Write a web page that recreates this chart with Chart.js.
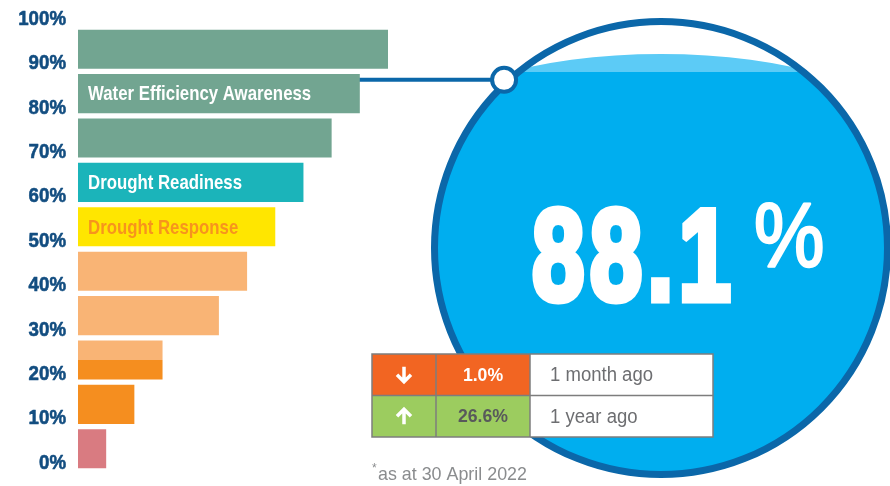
<!DOCTYPE html>
<html><head><meta charset="utf-8">
<script src="https://cdn.jsdelivr.net/npm/chart.js@4.4.0/dist/chart.umd.min.js"></script>
<style>html,body{margin:0;padding:0;background:#fff;overflow:hidden}#wrap{width:890px;height:486px;position:relative}</style>
</head><body><div id="wrap"><canvas id="c" width="890" height="486"></canvas></div>
<script>
// ---- data ----
const bands = ['90–100%','80–90%','70–80%','60–70%','50–60%','40–50%','30–40%','20–30%','10–20%','0–10%'];
const barLengths = [11, 10, 9, 8, 7, 6, 5, 3, 2, 1];
const barColors = ['#72a591','#72a591','#72a591','#1bb4ba','#ffe600','#f9b475','#f9b475',['#f9b475','#f58e1f'],'#f58e1f','#d97b81'];
const barLabels = ['', 'Water Efficiency Awareness', '', 'Drought Readiness', 'Drought Response', '', '', '', '', ''];
const barLabelColors = ['#ffffff','#ffffff','#ffffff','#ffffff','#f7941d','#ffffff','#ffffff','#ffffff','#ffffff','#ffffff'];
const tickValues = [0, 10, 20, 30, 40, 50, 60, 70, 80, 90, 100];
const currentLevel = 88.1;
const changeDirections = ['down', 'up'];
const changeValues = ['1.0%', '26.6%'];
const changePeriods = ['1 month ago', '1 year ago'];
const footnote = 'as at 30 April 2022';

// ---- styling ----
const FAMILY = '"Liberation Sans", Arial, sans-serif';
const BLUE_DARK = '#0b67a9';
const WATER = '#00aeef';
const WATER_LIGHT = '#5ccbf6';
const CIRCLE = {cx: 661, cy: 248, r: 230, border: 7};

// draws text horizontally condensed (no narrow font is installed)
function narrowText(ctx, text, x, y, o) {
  ctx.save();
  ctx.font = (o.weight || 'normal') + ' ' + o.size + 'px ' + FAMILY;
  ctx.fillStyle = o.color;
  ctx.textBaseline = o.baseline || 'middle';
  ctx.textAlign = 'left';
  const w = ctx.measureText(text).width * o.sx;
  let left = x;
  if (o.align === 'right') left = x - w;
  else if (o.align === 'center') left = x - w / 2;
  ctx.translate(left, y);
  ctx.scale(o.sx, 1);
  if (o.stroke) {
    ctx.strokeStyle = o.color; ctx.lineWidth = o.stroke; ctx.lineJoin = 'round';
    ctx.strokeText(text, 0, 0);
  }
  ctx.fillText(text, 0, 0);
  ctx.restore();
}

function barFill(ctx) {
  const c = barColors[ctx.dataIndex];
  if (!Array.isArray(c)) return c;
  const ys = ctx.chart.scales.y;
  if (!ys || ys.top === undefined) return c[0];
  const yc = ys.getPixelForValue(ctx.dataIndex);
  const g = ctx.chart.ctx.createLinearGradient(0, yc - 0.5, 0, yc + 0.5);
  g.addColorStop(0, c[0]); g.addColorStop(0.5, c[0]);
  g.addColorStop(0.5, c[1]); g.addColorStop(1, c[1]);
  return g;
}

const infographic = {
  id: 'infographic',
  beforeDatasetsDraw(chart) {
    const ctx = chart.ctx;
    const y2 = chart.scales.y2;
    // axis tick labels (condensed)
    y2.ticks.forEach(t => {
      narrowText(ctx, t.value + '%', y2.right - 12, y2.getPixelForValue(t.value) - 8,
        {size: 21, weight: 'bold', sx: 0.89, color: '#124d80', align: 'right', stroke: 0.6});
    });
    const {cx, cy, r, border} = CIRCLE;
    const R = r - border / 2;
    const lvlY = y2.getPixelForValue(currentLevel);
    ctx.save();
    ctx.beginPath(); ctx.arc(cx, cy, R, 0, Math.PI * 2);
    ctx.fillStyle = '#fff'; ctx.fill(); ctx.clip();
    ctx.beginPath();
    ctx.ellipse(cx, 130, 234, 76, 0, Math.PI, Math.PI * 2);
    ctx.lineTo(cx + 240, 140); ctx.lineTo(cx - 240, 140); ctx.closePath();
    ctx.fillStyle = WATER_LIGHT; ctx.fill();
    ctx.fillStyle = WATER; ctx.fillRect(cx - R - 2, 72, 2 * R + 4, 500);
    ctx.restore();
    ctx.save();
    ctx.beginPath(); ctx.arc(cx, cy, R, 0, Math.PI * 2);
    ctx.lineWidth = border; ctx.strokeStyle = BLUE_DARK; ctx.stroke();
    const dy = lvlY - cy;
    const mx = cx - Math.sqrt(r * r - dy * dy);
    ctx.beginPath(); ctx.moveTo(chart.chartArea.left, lvlY); ctx.lineTo(mx, lvlY);
    ctx.lineWidth = 4; ctx.stroke();
    ctx.beginPath(); ctx.arc(mx, lvlY, 12, 0, Math.PI * 2);
    ctx.fillStyle = '#fff'; ctx.fill(); ctx.lineWidth = 4; ctx.stroke();
    ctx.restore();
  },
  afterDatasetsDraw(chart) {
    const ctx = chart.ctx;
    const meta = chart.getDatasetMeta(0);
    barLabels.forEach((lab, i) => {
      if (!lab) return;
      const el = meta.data[i];
      narrowText(ctx, lab, chart.chartArea.left + 10, el.y + 1,
        {size: 21, weight: 'bold', sx: 0.80, color: barLabelColors[i]});
    });
    // big number (heavy, condensed)
    ctx.save();
    const txt = currentLevel.toFixed(1);
    ctx.font = 'bold 129px ' + FAMILY;
    ctx.textBaseline = 'alphabetic'; ctx.textAlign = 'left';
    if ('letterSpacing' in ctx) ctx.letterSpacing = '7px';
    const m = ctx.measureText(txt);
    const inkW = m.actualBoundingBoxLeft + m.actualBoundingBoxRight;
    const sx = 194 / inkW;
    ctx.translate(535, 299.5); ctx.scale(sx, 1);
    ctx.fillStyle = '#fff'; ctx.strokeStyle = '#fff';
    ctx.lineWidth = 7; ctx.lineJoin = 'miter'; ctx.miterLimit = 2;
    ctx.strokeText(txt, m.actualBoundingBoxLeft, 0);
    ctx.fillText(txt, m.actualBoundingBoxLeft, 0);
    ctx.restore();
    narrowText(ctx, '%', 754, 266, {size: 90, sx: 0.88, color: '#fff', baseline: 'alphabetic', stroke: 2.5});
    // table
    ctx.save();
    const x0 = 372, cols = [64, 94, 183], y0 = 354, rh = 41.5;
    const rowColors = {down: '#f26522', up: '#9ccc5f'};
    const valColors = {down: '#ffffff', up: '#58595b'};
    changeDirections.forEach((d, i) => {
      const y = y0 + i * rh;
      ctx.fillStyle = rowColors[d];
      ctx.fillRect(x0, y, cols[0] + cols[1], rh);
      ctx.fillStyle = '#fff';
      ctx.fillRect(x0 + cols[0] + cols[1], y, cols[2], rh);
      const ax = x0 + cols[0] / 2, ay = y + rh / 2;
      ctx.strokeStyle = '#fff'; ctx.lineWidth = 3.5; ctx.lineCap = 'butt'; ctx.lineJoin = 'miter';
      ctx.beginPath();
      if (d === 'down') {
        ctx.moveTo(ax, ay - 8); ctx.lineTo(ax, ay + 7);
        ctx.moveTo(ax - 7, ay); ctx.lineTo(ax, ay + 7); ctx.lineTo(ax + 7, ay);
      } else {
        ctx.moveTo(ax, ay + 8); ctx.lineTo(ax, ay - 7);
        ctx.moveTo(ax - 7, ay); ctx.lineTo(ax, ay - 7); ctx.lineTo(ax + 7, ay);
      }
      ctx.stroke();
      narrowText(ctx, changeValues[i], x0 + cols[0] + cols[1] / 2, ay + 1,
        {size: 18, weight: 'bold', sx: 0.98, color: valColors[d], align: 'center'});
      narrowText(ctx, changePeriods[i], x0 + cols[0] + cols[1] + 20, ay + 1,
        {size: 19.5, sx: 0.95, color: '#6d6e71'});
    });
    ctx.strokeStyle = '#7d7d7d'; ctx.lineWidth = 1.5;
    ctx.beginPath();
    const W = cols[0] + cols[1] + cols[2], H = rh * 2;
    ctx.rect(x0, y0, W, H);
    ctx.moveTo(x0, y0 + rh); ctx.lineTo(x0 + W, y0 + rh);
    ctx.moveTo(x0 + cols[0], y0); ctx.lineTo(x0 + cols[0], y0 + H);
    ctx.moveTo(x0 + cols[0] + cols[1], y0); ctx.lineTo(x0 + cols[0] + cols[1], y0 + H);
    ctx.stroke();
    ctx.restore();
    // footnote
    narrowText(ctx, '*', 372, 472, {size: 12, sx: 1, color: '#8a8c8e', baseline: 'alphabetic'});
    narrowText(ctx, footnote, 378, 480, {size: 19, sx: 0.94, color: '#8a8c8e', baseline: 'alphabetic'});
  }
};

new Chart(document.getElementById('c'), {
  type: 'bar',
  data: {
    labels: bands,
    datasets: [{
      data: barLengths,
      backgroundColor: barFill,
      borderWidth: 0,
      barPercentage: 0.88,
      categoryPercentage: 1
    }]
  },
  options: {
    indexAxis: 'y',
    responsive: false,
    animation: false,
    devicePixelRatio: 1,
    layout: {padding: {top: 27, bottom: 15, left: 0, right: 502}},
    plugins: {legend: {display: false}, tooltip: {enabled: false}},
    scales: {
      x: {display: false, min: 0, max: 11},
      y: {display: false},
      y2: {
        axis: 'y', type: 'linear', position: 'left', min: 0, max: 100,
        offset: false,
        afterBuildTicks(scale) { scale.ticks = tickValues.map(v => ({value: v})); },
        afterFit(scale) { scale.width = 78; },
        grid: {display: false, drawTicks: false, offset: false},
        border: {display: false},
        ticks: {display: false}
      }
    }
  },
  plugins: [infographic]
});
</script></body></html>
